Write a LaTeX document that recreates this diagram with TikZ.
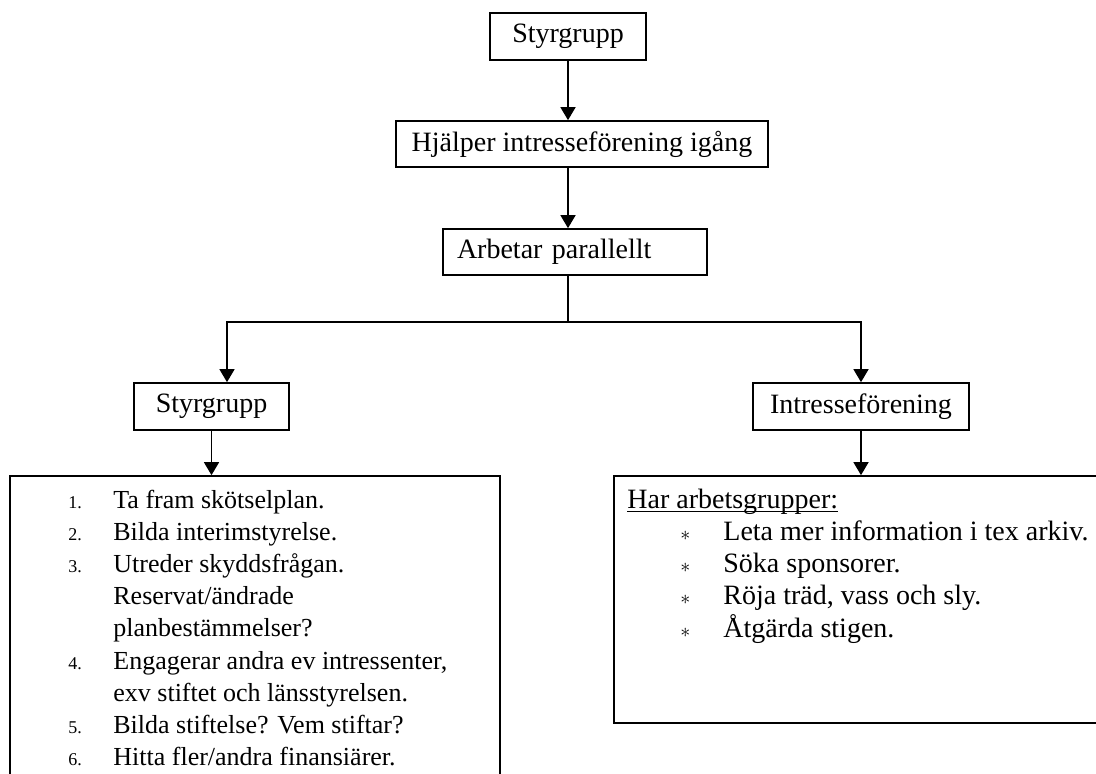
\documentclass[tikz,border=0pt]{standalone}
\usepackage{fontspec}
\setmainfont{Liberation Serif}
\usepackage{tikz}
\usetikzlibrary{arrows.meta}
\usetikzlibrary{positioning}

\newcommand{\stepnum}[1]{\makebox[22.5pt][l]{\fontsize{9}{10}\selectfont #1}}
\newcommand{\groupmark}{\makebox[21.5pt][l]{\fontsize{10}{10}\selectfont$\ast$}}
\newcommand{\groupline}[1]{\setbox0\hbox{#1}\rlap{\rule[-2pt]{\wd0}{0.55pt}}\box0}

\begin{document}
\begin{tikzpicture}[x=0.5pt, y=-0.5pt,
    box/.style={draw, line width=0.85pt, inner sep=0pt, font=\fontsize{14}{16}\selectfont},
    listbox/.style={draw, line width=0.85pt, inner sep=0pt},
    arrow/.style={line width=0.75pt, -{Triangle[length=6.5pt, width=7.5pt]}}]
    \useasboundingbox (0,0) rectangle (1096,773);
    \clip (0,0) rectangle (1096,773);

    \node[box, minimum width=78pt, minimum height=23.5pt] (top) at (568,36.5) {Styrgrupp};
    \node[box, minimum width=186pt, minimum height=23pt] (help) at (582,144) {Hjälper intresseförening igång};
    \node[box, minimum height=23pt, text width=118pt, inner xsep=7pt, align=left] (parallel) at (575,252) {Arbetar parallellt};
    \node[box, minimum width=77.5pt, minimum height=23.5pt] (styr) at (211.5,406.5) {Styrgrupp};
    \node[box, minimum width=108pt, minimum height=23.5pt] (forening) at (861,406.5) {Intresseförening};

    \node[listbox, minimum width=245pt, minimum height=162pt] (stepsbox) at (255,638) {};
    \node[listbox, minimum width=248pt, minimum height=123.5pt] (groupsbox) at (862,599.5) {};

    \coordinate (split) at (568,322);
    \coordinate (styrin) at ([xshift=7.75pt]styr.north);

    \draw[arrow] (top.south) -- (top.south |- help.north);
    \draw[arrow] (top.south |- help.south) -- (top.south |- parallel.north);
    \draw[line width=0.75pt] (top.south |- parallel.south) -- (split);
    \draw[arrow] (split) -| (styrin);
    \draw[arrow] (split) -| (forening.north);
    \draw[arrow] (styr.south) -- (styr.south |- stepsbox.north);
    \draw[arrow] (forening.south) -- (forening.south |- groupsbox.north);

    \node[anchor=base west, inner sep=0pt, font=\fontsize{13}{16.1}\selectfont] (steps) at (68,508) {%
        \begin{tabular}[t]{@{}l@{}l@{}}
            \stepnum{1.} & Ta fram skötselplan.\\
            \stepnum{2.} & Bilda interimstyrelse.\\
            \stepnum{3.} & Utreder skyddsfrågan.\\
                         & Reservat/ändrade\\
                         & planbestämmelser?\\
            \stepnum{4.} & Engagerar andra ev intressenter,\\
                         & exv stiftet och länsstyrelsen.\\
            \stepnum{5.} & Bilda stiftelse? Vem stiftar?\\
            \stepnum{6.} & Hitta fler/andra finansiärer.
        \end{tabular}};

    \node[anchor=base west, inner sep=0pt, font=\fontsize{14}{16.1}\selectfont] (groups) at (627,508) {%
        \begin{tabular}[t]{@{}l@{}l@{}}
            \multicolumn{2}{@{}l@{}}{\groupline{Har arbetsgrupper:}}\\
            \hspace{26.5pt}\groupmark & Leta mer information i tex arkiv.\\
            \hspace{26.5pt}\groupmark & Söka sponsorer.\\
            \hspace{26.5pt}\groupmark & Röja träd, vass och sly.\\
            \hspace{26.5pt}\groupmark & Åtgärda stigen.
        \end{tabular}};
\end{tikzpicture}
\end{document}
